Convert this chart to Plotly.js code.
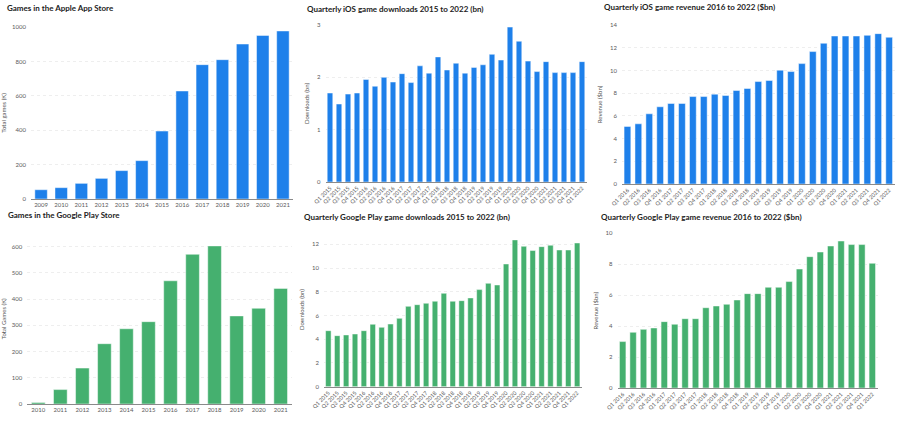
<!DOCTYPE html>
<html>
<head>
<meta charset="utf-8">
<script src="https://cdn.plot.ly/plotly-3.0.1.min.js"></script>
<style>html,body{margin:0;padding:0;background:#fff;}#chart{width:904px;height:422px;}</style>
</head>
<body>
<div id="chart"></div>
<script>
// ---- Data ----
const appleYears = ['2009','2010','2011','2012','2013','2014','2015','2016','2017','2018','2019','2020','2021'];
const appleGames = [54, 66, 91, 120, 165, 223, 395, 628, 781, 810, 901, 951, 977];

const iosDlQuarters = ['Q1 2015','Q2 2015','Q3 2015','Q4 2015','Q1 2016','Q2 2016','Q3 2016','Q4 2016','Q1 2017','Q2 2017','Q3 2017','Q4 2017','Q1 2018','Q2 2018','Q3 2018','Q4 2018','Q1 2019','Q2 2019','Q3 2019','Q4 2019','Q1 2020','Q2 2020','Q3 2020','Q4 2020','Q1 2021','Q2 2021','Q3 2021','Q4 2021','Q1 2022'];
const iosDownloads = [1.70, 1.49, 1.68, 1.70, 1.96, 1.83, 2.00, 1.91, 2.07, 1.90, 2.22, 2.08, 2.39, 2.14, 2.27, 2.08, 2.19, 2.24, 2.44, 2.33, 2.96, 2.69, 2.31, 2.11, 2.30, 2.09, 2.09, 2.09, 2.30];

const iosRevQuarters = ['Q1 2016','Q2 2016','Q3 2016','Q4 2016','Q1 2017','Q2 2017','Q3 2017','Q4 2017','Q1 2018','Q2 2018','Q3 2018','Q4 2018','Q1 2019','Q2 2019','Q3 2019','Q4 2019','Q1 2020','Q2 2020','Q3 2020','Q4 2020','Q1 2021','Q2 2021','Q3 2021','Q4 2021','Q1 2022'];
const iosRevenue = [5.07, 5.30, 6.18, 6.80, 7.09, 7.09, 7.70, 7.70, 7.91, 7.79, 8.23, 8.41, 9.02, 9.11, 10.02, 9.90, 10.60, 11.66, 12.39, 13.03, 13.03, 13.03, 13.09, 13.24, 12.92];

const gpYears = ['2010','2011','2012','2013','2014','2015','2016','2017','2018','2019','2020','2021'];
const gpGames = [6, 55, 137, 230, 287, 314, 470, 571, 603, 336, 365, 441];

const gpDlQuarters = iosDlQuarters;
const gpDownloads = [4.72, 4.30, 4.36, 4.44, 4.72, 5.26, 5.00, 5.28, 5.76, 6.77, 6.91, 7.03, 7.20, 7.87, 7.20, 7.25, 7.48, 8.18, 8.71, 8.57, 10.34, 12.37, 11.83, 11.47, 11.80, 11.92, 11.52, 11.52, 12.11];

const gpRevQuarters = iosRevQuarters;
const gpRevenue = [3.00, 3.60, 3.79, 3.88, 4.29, 4.12, 4.48, 4.48, 5.19, 5.30, 5.41, 5.69, 6.10, 6.10, 6.51, 6.51, 6.88, 7.69, 8.49, 8.79, 9.18, 9.50, 9.27, 9.27, 8.06];

const titles = [
  'Games in the Apple App Store',
  'Quarterly iOS game downloads 2015 to 2022 (bn)',
  'Quarterly iOS game revenue 2016 to 2022 ($bn)',
  'Games in the Google Play Store',
  'Quarterly Google Play game downloads 2015 to 2022 (bn)',
  'Quarterly Google Play game revenue 2016 to 2022 ($bn)'
];
const yTitles = ['Total games (K)','Downloads (bn)','Revenue ($bn)','Total Games (K)','Downloads (bn)','Revenue ($bn)'];

// ---- Styling / layout ----
const W = 904, H = 422;
const BLUE = '#1e80ea', GREEN = '#45b06f';
const FONT = 'Lato, "Open Sans", sans-serif';

// pixel boxes [x0, x1, yTop, yBottom]
const boxes = [
  [31, 293, 27, 199],
  [325.5, 586.5, 25, 182],
  [622, 894.6, 25, 184],
  [27.3, 291.7, 233.6, 404],
  [323.9, 581.6, 232.4, 386.7],
  [617.5, 877.5, 233.3, 388]
];
const ranges = [[0,1000],[0,3],[0,14],[0,650],[0,13],[0,10]];
const dticks = [200, 1, 2, 100, 2, 2];
const titlePos = [[5,8],[305,9],[602,7],[6,215],[302,217],[599,217]];

const series = [
  [appleYears, appleGames, BLUE],
  [iosDlQuarters, iosDownloads, BLUE],
  [iosRevQuarters, iosRevenue, BLUE],
  [gpYears, gpGames, GREEN],
  [gpDlQuarters, gpDownloads, GREEN],
  [gpRevQuarters, gpRevenue, GREEN]
];

const data = [];
const layout = {
  width: W, height: H,
  margin: {l:0, r:0, t:0, b:0},
  paper_bgcolor: '#ffffff', plot_bgcolor: '#ffffff',
  showlegend: false,
  font: {family: FONT, color: '#555'},
  bargap: 0.38,
  annotations: []
};

series.forEach((s, i) => {
  const n = i + 1;
  const xa = n === 1 ? 'x' : 'x' + n;
  const ya = n === 1 ? 'y' : 'y' + n;
  data.push({
    type: 'bar', x: s[0], y: s[1], xaxis: xa, yaxis: ya,
    marker: {color: s[2], line: {color: 'rgba(255,255,255,0.8)', width: 0.6}},
    hoverinfo: 'x+y'
  });
  const b = boxes[i];
  const quarterly = s[0].length > 15;
  layout['xaxis' + (n === 1 ? '' : n)] = {
    domain: [b[0] / W, b[1] / W],
    anchor: ya,
    type: 'category',
    showgrid: false,
    showline: true, linecolor: '#8a8a8a', linewidth: 1,
    ticks: '',
    tickangle: quarterly ? -45 : 0,
    tickfont: {size: quarterly ? 5.5 : 6, color: '#5a5a5a', family: FONT},
    fixedrange: true
  };
  layout['yaxis' + (n === 1 ? '' : n)] = {
    domain: [1 - b[3] / H, 1 - b[2] / H],
    anchor: xa,
    range: ranges[i],
    dtick: dticks[i],
    tick0: 0,
    showgrid: true, gridcolor: '#eeeeee', griddash: 'dot', gridwidth: 1,
    zeroline: false,
    showline: false,
    ticks: '',
    ticklabelstandoff: 4,
    tickfont: {size: 6, color: '#5a5a5a', family: FONT},
    title: {text: yTitles[i], font: {size: 6, color: '#555', family: FONT}, standoff: 6},
    fixedrange: true
  };
  layout.annotations.push({
    text: '<b>' + titles[i] + '</b>',
    xref: 'paper', yref: 'paper',
    x: titlePos[i][0] / W, y: 1 - titlePos[i][1] / H,
    xanchor: 'left', yanchor: 'middle',
    showarrow: false,
    font: {size: 8, color: '#222', family: FONT}
  });
});

Plotly.newPlot('chart', data, layout, {displayModeBar: false, staticPlot: true});
</script>
</body>
</html>
